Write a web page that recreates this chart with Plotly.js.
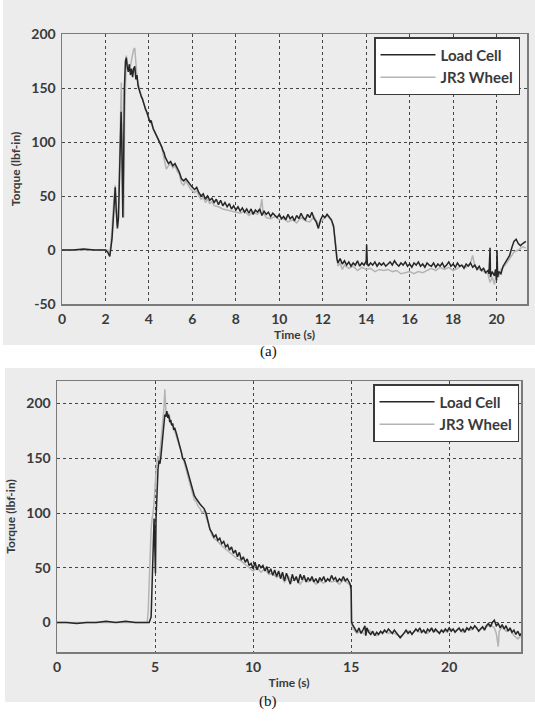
<!DOCTYPE html>
<html>
<head>
<meta charset="utf-8">
<script src="https://cdn.plot.ly/plotly-3.0.1.min.js"></script>
<style>html,body{margin:0;padding:0;background:#fff;}#chart{width:535px;height:723px;}</style>
</head>
<body>
<div id="chart"></div>
<script>
// ---- Data ----
// Panel (a): [time s, torque lbf-in]
const loadCellA = [[0,0],[0.5,0],[1.0,1],[1.5,0],[2.0,0],[2.1,-2],[2.2,-6],[2.25,2],[2.3,10],[2.35,25],[2.4,40],[2.45,58],[2.5,35],[2.55,20],[2.6,30],[2.65,70],[2.7,110],[2.72,128],[2.75,100],[2.78,50],[2.8,30],[2.83,75],[2.87,150],[2.92,175],[2.96,178],[3.0,170],[3.05,165],[3.1,172],[3.15,162],[3.2,168],[3.25,160],[3.3,168],[3.35,170],[3.4,158],[3.45,162],[3.5,152],[3.55,148],[3.6,146],[3.65,142],[3.7,140],[3.75,136],[3.8,134],[3.85,130],[3.9,128],[3.95,124],[4.0,122],[4.05,118],[4.1,120],[4.15,115],[4.2,112],[4.25,110],[4.3,108],[4.35,106],[4.4,104],[4.45,102],[4.5,100],[4.55,98],[4.6,95],[4.65,92],[4.7,90],[4.75,86],[4.8,84],[4.85,82],[4.9,80],[5.0,82],[5.1,78],[5.2,80],[5.3,76],[5.4,72],[5.5,66],[5.6,64],[5.7,66],[5.8,63],[5.9,60],[6.0,58],[6.1,56],[6.2,58],[6.3,53],[6.4,50],[6.5,52],[6.6,47],[6.7,50],[6.8,46],[6.9,48],[7.0,44],[7.1,47],[7.2,42],[7.3,46],[7.4,41],[7.5,44],[7.6,40],[7.7,43],[7.8,38],[7.9,41],[8.0,37],[8.1,40],[8.2,36],[8.3,39],[8.4,35],[8.5,38],[8.6,34],[8.7,38],[8.8,33],[8.9,37],[9.0,35],[9.1,38],[9.2,32],[9.3,36],[9.4,33],[9.5,35],[9.6,31],[9.7,34],[9.8,32],[9.9,30],[10.0,33],[10.1,29],[10.2,31],[10.3,28],[10.4,33],[10.5,29],[10.6,31],[10.7,27],[10.8,32],[10.9,29],[11.0,34],[11.1,30],[11.2,28],[11.3,33],[11.4,30],[11.5,35],[11.6,29],[11.7,26],[11.8,20],[11.9,28],[12.0,32],[12.1,30],[12.2,33],[12.3,30],[12.4,28],[12.5,22],[12.55,12],[12.6,0],[12.65,-8],[12.7,-12],[12.8,-8],[12.9,-13],[13.0,-10],[13.1,-14],[13.2,-11],[13.3,-15],[13.4,-12],[13.5,-14],[13.6,-10],[13.7,-15],[13.8,-12],[13.9,-14],[14.0,-10],[14.02,5],[14.05,-12],[14.1,-15],[14.2,-12],[14.3,-14],[14.4,-11],[14.5,-15],[14.6,-12],[14.7,-14],[14.8,-12],[14.9,-15],[15.0,-13],[15.1,-11],[15.2,-14],[15.3,-10],[15.4,-13],[15.5,-15],[15.6,-12],[15.7,-14],[15.8,-11],[15.9,-15],[16.0,-13],[16.1,-16],[16.2,-12],[16.3,-14],[16.4,-11],[16.5,-15],[16.6,-13],[16.7,-16],[16.8,-12],[16.9,-14],[17.0,-15],[17.1,-12],[17.2,-16],[17.3,-13],[17.4,-15],[17.5,-12],[17.6,-16],[17.7,-14],[17.8,-11],[17.9,-15],[18.0,-13],[18.1,-16],[18.2,-12],[18.3,-15],[18.4,-14],[18.5,-17],[18.6,-13],[18.7,-15],[18.8,-12],[18.9,-16],[19.0,-14],[19.1,-18],[19.2,-15],[19.3,-19],[19.4,-17],[19.5,-21],[19.6,-19],[19.65,-22],[19.7,2],[19.72,-25],[19.8,-20],[19.9,-24],[19.95,-18],[20.0,-28],[20.02,0],[20.05,-25],[20.1,-20],[20.2,-22],[20.3,-15],[20.4,-12],[20.5,-8],[20.6,-5],[20.7,2],[20.8,8],[20.9,10],[21.0,6],[21.1,4],[21.2,6],[21.35,8]];
const jr3WheelA = [[0,0],[1,0],[2.0,0],[2.1,0],[2.2,-3],[2.25,5],[2.3,20],[2.35,40],[2.4,50],[2.45,60],[2.5,40],[2.55,22],[2.6,40],[2.65,100],[2.7,150],[2.73,155],[2.76,110],[2.8,45],[2.84,30],[2.88,120],[2.92,170],[2.96,180],[3.0,175],[3.05,168],[3.1,172],[3.15,170],[3.2,176],[3.25,182],[3.3,186],[3.35,187],[3.4,172],[3.45,160],[3.5,155],[3.55,150],[3.6,146],[3.7,140],[3.8,133],[3.9,127],[4.0,122],[4.1,117],[4.2,113],[4.3,108],[4.4,104],[4.5,100],[4.6,94],[4.7,84],[4.8,75],[4.9,78],[5.0,80],[5.1,76],[5.2,78],[5.3,73],[5.4,70],[5.5,62],[5.6,60],[5.7,64],[5.8,60],[5.9,57],[6.0,55],[6.1,53],[6.2,55],[6.3,50],[6.4,47],[6.5,49],[6.6,44],[6.7,47],[6.8,43],[6.9,45],[7.0,41],[7.2,40],[7.4,38],[7.6,37],[7.8,36],[8.0,35],[8.2,34],[8.4,36],[8.6,32],[8.8,35],[9.0,33],[9.1,36],[9.2,47],[9.25,35],[9.4,30],[9.6,29],[9.8,31],[10.0,28],[10.2,29],[10.4,26],[10.6,28],[10.8,25],[11.0,30],[11.2,27],[11.4,26],[11.6,31],[11.8,24],[12.0,28],[12.2,32],[12.4,27],[12.5,20],[12.6,5],[12.65,-5],[12.7,-15],[12.8,-12],[12.9,-18],[13.0,-14],[13.2,-17],[13.4,-15],[13.6,-19],[13.8,-16],[14.0,-18],[14.2,-17],[14.4,-20],[14.6,-18],[14.8,-19],[15.0,-18],[15.2,-20],[15.4,-19],[15.6,-22],[15.8,-21],[16.0,-20],[16.2,-22],[16.4,-20],[16.6,-21],[16.8,-19],[17.0,-17],[17.2,-19],[17.4,-16],[17.6,-18],[17.8,-16],[18.0,-19],[18.2,-17],[18.4,-14],[18.6,-16],[18.8,-12],[18.9,-5],[19.0,-15],[19.2,-18],[19.4,-20],[19.6,-22],[19.7,-30],[19.8,-25],[19.9,-32],[20.0,-20],[20.1,-25],[20.2,-18],[20.4,-14],[20.6,-8],[20.8,-2],[21.0,0],[21.2,3],[21.35,2]];

// Panel (b)
const loadCellB = [[0,0],[0.5,0],[1,-1],[1.5,0],[2,0],[2.5,1],[3,0],[3.5,1],[4,0],[4.5,0],[4.7,0],[4.8,5],[4.85,30],[4.9,70],[4.95,95],[5.0,60],[5.02,45],[5.05,95],[5.1,130],[5.15,140],[5.2,148],[5.25,145],[5.3,152],[5.35,160],[5.4,172],[5.45,182],[5.5,190],[5.55,188],[5.6,193],[5.65,187],[5.7,190],[5.75,183],[5.8,185],[5.85,180],[5.9,182],[5.95,176],[6.0,178],[6.1,172],[6.2,166],[6.3,160],[6.35,155],[6.4,150],[6.5,148],[6.6,142],[6.7,135],[6.8,128],[6.9,122],[7.0,116],[7.1,113],[7.2,110],[7.3,108],[7.4,106],[7.5,104],[7.6,100],[7.7,92],[7.8,85],[7.9,82],[8.0,78],[8.1,80],[8.2,75],[8.3,77],[8.4,72],[8.5,74],[8.6,69],[8.7,71],[8.8,66],[8.9,69],[9.0,63],[9.1,66],[9.2,60],[9.3,64],[9.4,57],[9.5,60],[9.6,55],[9.7,58],[9.8,52],[9.9,54],[10.0,49],[10.1,55],[10.2,48],[10.3,53],[10.4,50],[10.5,52],[10.6,47],[10.7,51],[10.8,45],[10.9,49],[11.0,43],[11.1,48],[11.2,42],[11.3,47],[11.4,40],[11.5,46],[11.6,38],[11.7,45],[11.8,40],[11.9,35],[12.0,44],[12.1,38],[12.2,42],[12.3,36],[12.4,44],[12.5,39],[12.6,43],[12.7,37],[12.8,41],[12.9,38],[13.0,42],[13.1,37],[13.2,40],[13.3,36],[13.4,41],[13.5,38],[13.6,42],[13.7,37],[13.8,40],[13.9,38],[14.0,43],[14.1,39],[14.2,41],[14.3,37],[14.4,40],[14.5,38],[14.6,42],[14.7,38],[14.8,40],[14.9,36],[14.95,35],[15.0,30],[15.02,0],[15.1,-3],[15.2,-6],[15.3,-9],[15.4,-5],[15.5,-10],[15.6,-7],[15.7,-3],[15.75,-12],[15.8,-5],[15.9,-9],[16.0,-11],[16.1,-8],[16.2,-12],[16.3,-9],[16.4,-11],[16.5,-8],[16.6,-10],[16.7,-7],[16.8,-9],[16.9,-6],[17.0,-8],[17.1,-10],[17.2,-7],[17.3,-9],[17.4,-11],[17.5,-14],[17.6,-12],[17.7,-9],[17.8,-7],[17.9,-10],[18.0,-8],[18.1,-11],[18.2,-9],[18.3,-6],[18.4,-8],[18.5,-5],[18.6,-9],[18.7,-7],[18.8,-10],[18.9,-6],[19.0,-8],[19.1,-5],[19.2,-9],[19.3,-6],[19.4,-8],[19.5,-10],[19.6,-7],[19.7,-9],[19.8,-6],[19.9,-8],[20.0,-5],[20.1,-8],[20.2,-6],[20.3,-9],[20.4,-7],[20.5,-5],[20.6,-8],[20.7,-6],[20.8,-9],[20.9,-5],[21.0,-7],[21.1,-4],[21.2,-6],[21.3,-3],[21.4,-5],[21.5,-8],[21.6,-6],[21.7,-4],[21.8,-7],[21.9,-3],[22.0,-1],[22.1,-4],[22.2,0],[22.3,2],[22.4,-3],[22.5,-1],[22.6,-5],[22.7,-2],[22.8,-6],[22.9,-3],[23.0,-8],[23.1,-5],[23.2,-9],[23.3,-7],[23.4,-11],[23.5,-8],[23.6,-12],[23.66,-10]];
const jr3WheelB = [[0,0],[1,0],[2,0],[3,0],[4,0],[4.5,0],[4.6,0],[4.65,10],[4.7,40],[4.75,70],[4.8,85],[4.85,95],[4.9,100],[4.95,110],[5.0,132],[5.05,138],[5.1,148],[5.15,152],[5.2,145],[5.25,155],[5.3,158],[5.35,170],[5.4,185],[5.45,195],[5.5,213],[5.53,200],[5.56,190],[5.6,188],[5.65,192],[5.7,186],[5.75,188],[5.8,182],[5.9,180],[6.0,175],[6.1,170],[6.2,164],[6.3,158],[6.4,152],[6.5,146],[6.6,140],[6.7,132],[6.8,125],[6.9,118],[7.0,112],[7.1,110],[7.2,106],[7.3,104],[7.4,100],[7.5,102],[7.6,96],[7.7,90],[7.8,84],[7.9,80],[8.0,77],[8.2,74],[8.4,70],[8.6,67],[8.8,64],[9.0,61],[9.2,58],[9.4,56],[9.6,53],[9.8,50],[10.0,47],[10.2,50],[10.4,46],[10.6,49],[10.8,44],[11.0,45],[11.2,41],[11.4,44],[11.6,37],[11.8,42],[12.0,38],[12.2,40],[12.4,35],[12.6,40],[12.8,37],[13.0,39],[13.2,35],[13.4,38],[13.6,36],[13.8,39],[14.0,37],[14.2,38],[14.4,35],[14.6,39],[14.8,36],[14.95,34],[15.0,28],[15.02,-2],[15.1,-6],[15.3,-10],[15.5,-8],[15.7,-11],[15.9,-7],[16.1,-10],[16.3,-12],[16.5,-9],[16.7,-8],[16.9,-10],[17.1,-9],[17.3,-11],[17.5,-13],[17.7,-10],[17.9,-8],[18.1,-10],[18.3,-7],[18.5,-9],[18.7,-8],[18.9,-10],[19.1,-6],[19.3,-8],[19.5,-9],[19.7,-7],[19.9,-9],[20.1,-6],[20.3,-8],[20.5,-6],[20.7,-9],[20.9,-5],[21.1,-7],[21.3,-4],[21.5,-7],[21.7,-5],[21.9,-4],[22.1,-2],[22.3,-5],[22.4,-10],[22.5,-22],[22.55,-8],[22.7,-4],[22.9,-8],[23.1,-6],[23.3,-12],[23.5,-15],[23.66,-12]];

const seriesNames = ["Load Cell", "JR3 Wheel"];
const xTicksA = [0,2,4,6,8,10,12,14,16,18,20];
const yTicksA = [-50,0,50,100,150,200];
const xTicksB = [0,5,10,15,20];
const yTicksB = [0,50,100,150,200];
const captions = ["(a)", "(b)"];
const xTitle = "Time (s)";
const yTitle = "Torque (lbf-in)";

// ---- Rendering ----
const W = 535, H = 723;
const px = v => v / W;
const py = v => 1 - v / H;
const DARK = "#262626", LIGHT = "#b4b4b4";
const FAM = "Lato, 'Open Sans', sans-serif";
const tickFont = {family: FAM, size: 14, color: "#3a3a3a", weight: 700};
const titleFont = {family: FAM, size: 12, color: "#3a3a3a", weight: 700};

function mk(data, name, color, xa, ya, lg) {
  return {
    x: data.map(d => d[0]), y: data.map(d => d[1]),
    type: "scatter", mode: "lines", name: name,
    line: {color: color, width: 1.5},
    xaxis: xa, yaxis: ya, legend: lg, hoverinfo: "skip"
  };
}

const traces = [
  mk(jr3WheelA, seriesNames[1], LIGHT, "x", "y", "legend"),
  mk(loadCellA, seriesNames[0], DARK, "x", "y", "legend"),
  mk(jr3WheelB, seriesNames[1], LIGHT, "x2", "y2", "legend2"),
  mk(loadCellB, seriesNames[0], DARK, "x2", "y2", "legend2")
];

function axisBase(domain, range, ticks, anchor, title, standoff) {
  return {
    domain: domain, range: range, anchor: anchor,
    tickvals: ticks, ticktext: ticks.map(String),
    showgrid: true, gridcolor: "#444444", griddash: "dot", gridwidth: 1,
    zeroline: false, showline: true, mirror: true, linecolor: "#7a7a7a", linewidth: 1.5,
    ticks: "", tickfont: tickFont, ticklabelstandoff: 2,
    title: {text: title, font: titleFont, standoff: standoff}
  };
}

const legendStyle = (x, y) => ({
  x: px(x), y: py(y), xanchor: "right", yanchor: "top",
  bgcolor: "#ffffff", bordercolor: "#3a3a3a", borderwidth: 1.5,
  font: {family: FAM, size: 15, color: "#3a3a3a", weight: 700},
  traceorder: "reversed", itemwidth: 55, tracegroupgap: 0
});

const layout = {
  width: W, height: H,
  margin: {l: 0, r: 0, t: 0, b: 0},
  paper_bgcolor: "#ffffff", plot_bgcolor: "#ffffff",
  showlegend: true,
  xaxis: axisBase([px(62), px(527)], [0, 21.4], xTicksA, "y", xTitle, 4),
  yaxis: axisBase([py(304), py(34)], [-50, 200], yTicksA, "x", yTitle, 8),
  xaxis2: axisBase([px(57), px(521)], [0, 23.66], xTicksB, "y2", xTitle, 4),
  yaxis2: axisBase([py(652), py(381)], [-27, 220.6], yTicksB, "x2", yTitle, 8),
  legend: legendStyle(520, 37),
  legend2: legendStyle(519, 384),
  shapes: [
    {type: "rect", xref: "paper", yref: "paper", x0: px(3), x1: 1, y0: py(345), y1: 1,
     fillcolor: "#ececec", line: {width: 0}, layer: "below"},
    {type: "rect", xref: "paper", yref: "paper", x0: px(5), x1: 1, y0: py(702), y1: py(368),
     fillcolor: "#ececec", line: {width: 0}, layer: "below"}
  ],
  annotations: [
    {text: captions[0], xref: "paper", yref: "paper", x: px(268), y: py(351), showarrow: false,
     font: {family: "'Liberation Serif', 'Times New Roman', serif", size: 15, color: "#111"}},
    {text: captions[1], xref: "paper", yref: "paper", x: px(268), y: py(712), showarrow: false,
     font: {family: "'Liberation Serif', 'Times New Roman', serif", size: 15, color: "#111"}}
  ]
};

Plotly.newPlot("chart", traces, layout, {displayModeBar: false, staticPlot: true});
</script>
</body>
</html>
